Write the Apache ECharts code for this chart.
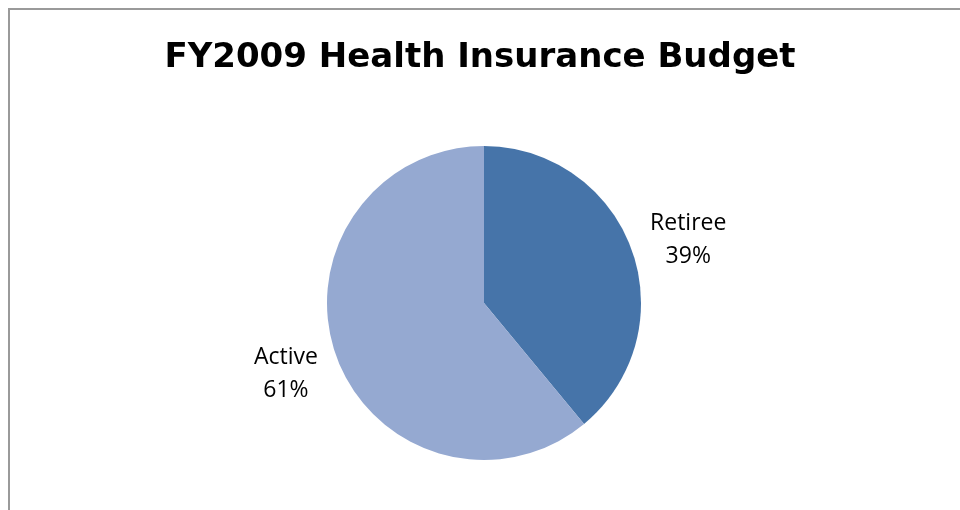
<!DOCTYPE html>
<html>
<head>
<meta charset="utf-8">
<title>FY2009 Health Insurance Budget</title>
<script src="https://cdn.jsdelivr.net/npm/echarts@6/dist/echarts.min.js"></script>
<style>
  html, body { margin: 0; padding: 0; background: #ffffff; }
  #chart { width: 960px; height: 510px; }
</style>
</head>
<body>
<div id="chart"></div>
<script>
// Budget split, in percent
const categories = ['Retiree', 'Active'];
const shares = [39, 61];
const sliceColors = ['#4674A9', '#95A9D1'];
// small per-slice nudges for the outside labels, in pixels
const labelNudge = [[-13, 0], [13, 8]];

const chart = echarts.init(document.getElementById('chart'), null, { renderer: 'canvas' });

const pieData = categories.map((name, i) => ({
  name: name,
  value: shares[i],
  itemStyle: { color: sliceColors[i] }
}));

chart.setOption({
  backgroundColor: '#ffffff',
  animation: false,
  title: {
    text: 'FY2009 Health Insurance Budget',
    left: 'center',
    top: 36,
    textStyle: {
      fontFamily: 'DejaVu Sans',
      fontWeight: 'bold',
      fontSize: 34,
      color: '#000000'
    }
  },
  graphic: [{
    type: 'rect',
    shape: { x: 9, y: 9, width: 1000, height: 600 },
    style: { fill: 'none', stroke: '#9a9a9a', lineWidth: 2 },
    silent: true
  }],
  series: [{
    type: 'pie',
    center: [484, 303],
    radius: [0, 157],
    startAngle: 90,
    clockwise: true,
    data: pieData,
    itemStyle: { borderWidth: 0 },
    label: {
      show: true,
      position: 'outside',
      formatter: '{b}\n{c}%',
      fontFamily: 'Open Sans',
      fontSize: 23,
      lineHeight: 33,
      color: '#000000'
    },
    labelLine: { show: false, length: 28, length2: 0 },
    labelLayout: function (params) {
      const r = params.labelRect;
      const n = labelNudge[params.dataIndex];
      return {
        x: r.x + r.width / 2 + n[0],
        y: r.y + r.height / 2 + n[1],
        align: 'center',
        verticalAlign: 'middle'
      };
    },
    emphasis: { disabled: true }
  }]
});
</script>
</body>
</html>
